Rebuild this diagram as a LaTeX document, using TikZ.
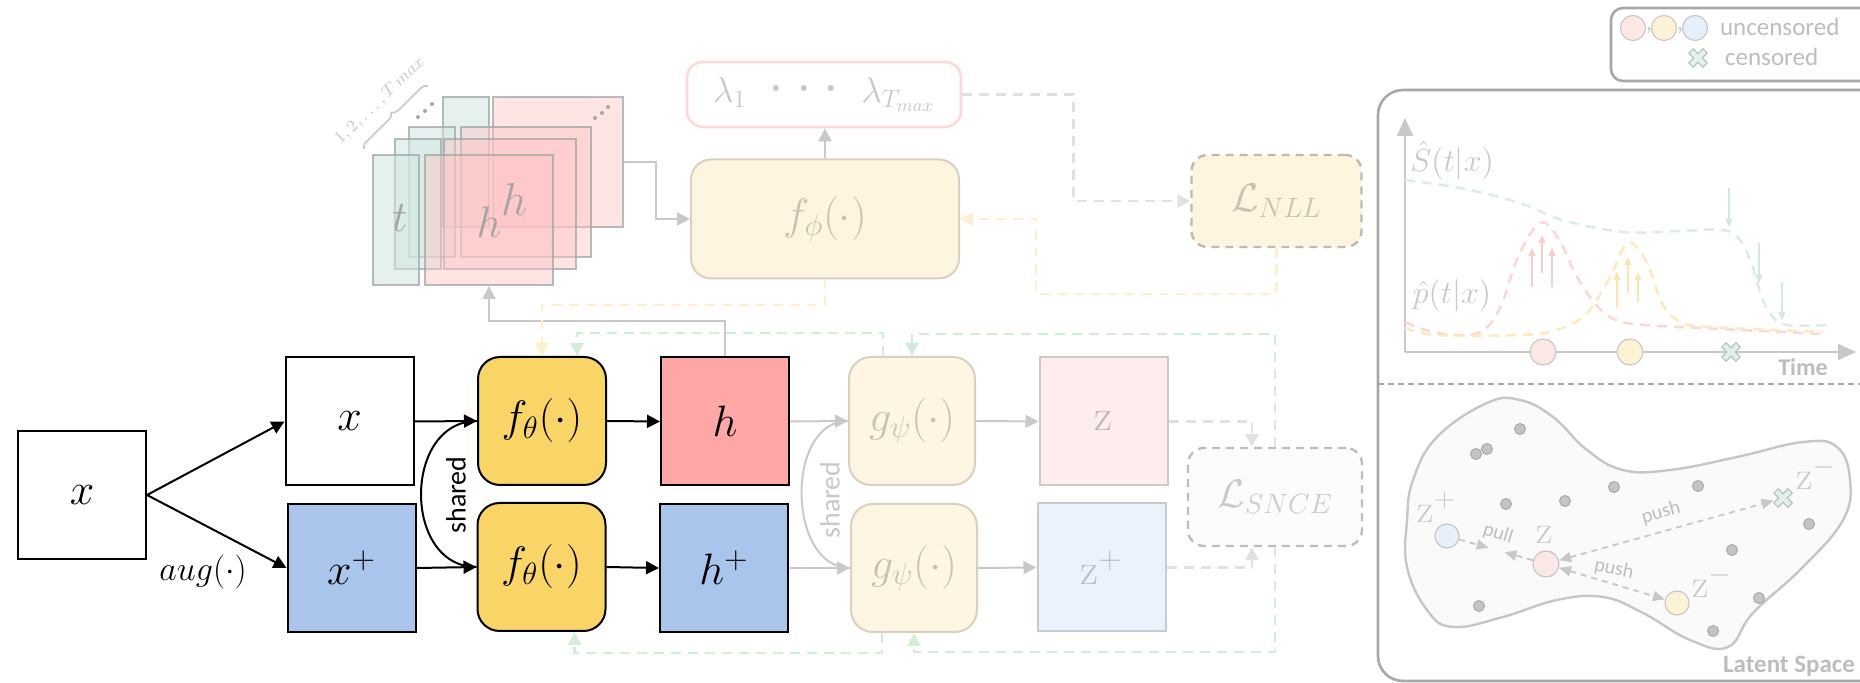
\RequirePackage{fix-cm}
\documentclass[tikz,border=0pt]{standalone}
\usepackage{fontspec}
\newfontfamily\calib{Carlito}
\usetikzlibrary{arrows.meta,calc,decorations.pathreplacing}

\newcommand{\fsz}[1]{\fontsize{#1}{#1}\selectfont}

% main pipeline
\definecolor{cGold}{HTML}{F9D466}
\definecolor{cRed}{HTML}{FFA6A6}
\definecolor{cBlue}{HTML}{A9C5EB}
% faded parts
\definecolor{cGrayLn}{HTML}{C9C9C9}
\definecolor{cGFill}{HTML}{FEF6E2}
\definecolor{cGDraw}{HTML}{D8D0C0}
\definecolor{cGText}{HTML}{C9C1B1}
\definecolor{cZFill}{HTML}{FDEDED}
\definecolor{cZDraw}{HTML}{CFC8C8}
\definecolor{cZText}{HTML}{BFB7B7}
\definecolor{cZpFill}{HTML}{EBF2FB}
\definecolor{cZpDraw}{HTML}{C6CBD2}
\definecolor{cZpText}{HTML}{BCBDC6}
\definecolor{cSnFill}{HTML}{FBFDFB}
\definecolor{cLossDraw}{HTML}{BDBDBD}
\definecolor{cSnText}{HTML}{C8CCC8}
\definecolor{cNlFill}{HTML}{FEF5E0}
\definecolor{cNlDraw}{HTML}{BFBAB0}
\definecolor{cLamDraw}{HTML}{FCDADA}
\definecolor{cGreen}{HTML}{D3EDD8}
\definecolor{cYellow}{HTML}{FDEFCF}
\definecolor{cLDash}{HTML}{E1E1E1}
% hidden-state tiles
\definecolor{cTeal}{HTML}{D2E6E2}
\definecolor{cPink}{HTML}{FFC4C4}
\definecolor{cTileDraw}{HTML}{9FA6A5}
\definecolor{cTileText}{HTML}{A5A5A5}
% right panel
\definecolor{cPanel}{HTML}{A8A8A8}
\definecolor{cAxis}{HTML}{C8C8C8}
\definecolor{cPanelText}{HTML}{BDBDBD}
\definecolor{cSCurve}{HTML}{DCEDE9}
\definecolor{cPCurve}{HTML}{FBD8D8}
\definecolor{cYCurve}{HTML}{FDEAC0}
\definecolor{cSArrow}{HTML}{D3E8E3}
\definecolor{cPArrow}{HTML}{F8CDCD}
\definecolor{cYArrow}{HTML}{FCE5B0}
\definecolor{cDotFill}{HTML}{C4C4C4}
\definecolor{cDotDraw}{HTML}{A9A9A9}
\definecolor{cBlob}{HTML}{FAFAFA}
\definecolor{cBlobDraw}{HTML}{C6C6C6}
\definecolor{cXFill}{HTML}{E4F0ED}
\definecolor{cXDraw}{HTML}{B4C6C1}
\definecolor{cLegPink}{HTML}{FDE8E8}
\definecolor{cLegYel}{HTML}{FEF2D6}
\definecolor{cLegBlue}{HTML}{E7EFFA}

\begin{document}
\begin{tikzpicture}[x=0.5pt,y=-0.5pt,
  sq/.style={draw=black, line width=1pt, inner sep=0pt, minimum width=64pt,
    minimum height=64pt, font=\fsz{22}},
  fnbox/.style={sq, rounded corners=11pt, fill=cGold},
  gbox/.style={draw=cGDraw, fill=cGFill, line width=1pt, rounded corners=11pt,
    inner sep=0pt, minimum width=63pt, minimum height=64pt, text=cGText, font=\fsz{22}},
  zbox/.style={line width=1pt, inner sep=0pt, minimum width=64pt,
    minimum height=64pt, font=\fsz{22}},
  lossbox/.style={dashed, dash pattern=on 4pt off 3pt, line width=1.2pt,
    rounded corners=8pt, inner sep=0pt, font=\fsz{20}},
  tealtile/.style={draw=cTileDraw, fill=cTeal, fill opacity=0.55, draw opacity=0.75,
    line width=1pt, inner sep=0pt, minimum width=23pt, minimum height=65pt},
  pinktile/.style={draw=cTileDraw, fill=cPink, fill opacity=0.45, draw opacity=0.75,
    line width=1pt, inner sep=0pt, minimum width=64pt, minimum height=65pt},
  blk/.style={draw=black, line width=1pt, -{Triangle[length=6.5pt,width=6.5pt]}},
  gry/.style={draw=cGrayLn, line width=1pt, -{Triangle[length=6.5pt,width=6.5pt]}},
  grn/.style={draw=cGreen, line width=1.4pt, dash pattern=on 5pt off 3.5pt,
    -{Triangle[length=6.5pt,width=6.5pt]}},
  ylw/.style={draw=cYellow, line width=1.4pt, dash pattern=on 5pt off 3.5pt,
    -{Triangle[length=6.5pt,width=6.5pt]}},
  lgd/.style={draw=cLDash, line width=1.4pt, dash pattern=on 5pt off 3.5pt,
    -{Triangle[length=6.5pt,width=6.5pt]}},
  panel/.style={draw=cPanel, line width=1.3pt},
  curve/.style={line width=1.3pt, dash pattern=on 5pt off 3.5pt},
  tinyarr/.style={line width=0.6pt, -{Triangle[length=4pt,width=3.5pt]}},
  dot/.style={circle, draw=cDotDraw, fill=cDotFill, line width=0.5pt,
    inner sep=0pt, minimum width=5.5pt, minimum height=5.5pt},
  lat/.style={circle, draw=cAxis, line width=0.6pt, inner sep=0pt, minimum size=12pt},
  pp/.style={draw=cAxis, line width=0.9pt, dash pattern=on 3pt off 2.5pt},
  ppt/.style={text=cPanelText, font=\calib\fsz{10}},
  zl/.style={text=cAxis, font=\fsz{20}},
  xmark/.pic={\draw[draw=cXDraw, fill=cXFill, line width=0.6pt, rotate=45]
    (-3,-10) -- (3,-10) -- (3,-3) -- (10,-3) -- (10,3) -- (3,3) -- (3,10)
    -- (-3,10) -- (-3,3) -- (-10,3) -- (-10,-3) -- (-3,-3) -- cycle;}
]
\useasboundingbox (0,0) rectangle (1860,683);
\clip (0,0) rectangle (1860,683);

% ---------- hidden states over time ----------
\node[pinktile, minimum width=65pt] (P4) at (558,162.5) {};
\node[tealtile] (T4) at (466,162) {};
\node[pinktile, minimum width=65pt] (P3) at (526,192) {};
\node[tealtile] (T3) at (432,192) {};
\node[pinktile, minimum width=66pt] (P2) at (510,204) {};
\node[tealtile] (T2) at (418,204) {};
\node[pinktile] (P1) at (489,220) {};
\node[tealtile] (T1) at (396,220) {};
\node[text=cTileText, font=\fsz{22}] (tlab) at (400,218) {$t$};
\node[text=cTileText, font=\fsz{22}] (hlabA) at (489,222) {$h$};
\node[text=cTileText, font=\fsz{23}] (hlabB) at (514,200) {$h$};
\foreach \px/\py in {418/117, 425/111, 432/104, 595/118, 602/113, 608/107}
  \fill[cTileText] (\px,\py) circle[radius=1pt];
\draw[cAxis, line width=0.8pt, decorate, decoration={brace, amplitude=3.5pt}]
  (364,149) -- (428,86);
\node[text=cAxis, rotate=44, font=\fsz{8.5}] (tmaxlab) at (380,101) {$1,2,\ldots,T\,max$};

% ---------- survival head ----------
\node[draw=cGDraw, fill=cNlFill, line width=1pt, rounded corners=10pt, inner sep=0pt,
  minimum width=134pt, minimum height=59.5pt, text=cGText, font=\fsz{22}]
  (fphi) at (825,219) {$f_\phi(\cdot)$};
\node[draw=cLamDraw, fill=white, line width=1.3pt, rounded corners=8pt, inner sep=0pt,
  minimum width=137pt, minimum height=32.5pt, text=cAxis, font=\fsz{18}]
  (lam) at (824,94.5) {$\lambda_1$\hspace{11pt}{\fsz{28}$\cdot$}\hspace{6pt}{\fsz{28}$\cdot$}\hspace{6pt}{\fsz{28}$\cdot$}\hspace{11pt}$\lambda_{T_{max}}$};
\node[lossbox, draw=cNlDraw, fill=cNlFill, minimum width=85pt, minimum height=46pt,
  text=cGText] (Lnll) at (1276.5,201) {$\mathcal{L}_{NLL}$};

% ---------- contrastive pipeline ----------
\node[sq] (xin) at (82,495) {$x$};
\node[sq] (xa) at (349.5,421.5) {$x$};
\node[sq, fill=cBlue] (xp) at (351.5,568) {$x^+$};
\node[fnbox] (ft) at (542,421) {$f_\theta(\cdot)$};
\node[fnbox] (fb) at (541.5,567) {$f_\theta(\cdot)$};
\node[sq, fill=cRed] (h) at (725,421.5) {$h$};
\node[sq, fill=cBlue] (hp) at (724,568) {$h^+$};
\node[gbox] (gt) at (912,421) {$g_\psi(\cdot)$};
\node[gbox] (gb) at (914,568) {$g_\psi(\cdot)$};
\node[zbox, draw=cZDraw, fill=cZFill, text=cZText] (z) at (1103.5,421.5) {$\mathrm{z}$};
\node[zbox, draw=cZpDraw, fill=cZpFill, text=cZpText] (zp) at (1101.5,567.5) {$\mathrm{z}^+$};
\node[lossbox, draw=cLossDraw, fill=cSnFill, minimum width=87pt, minimum height=49pt,
  text=cSnText] (Lsnce) at (1275,497) {$\mathcal{L}_{SNCE}$};

\node[font=\fsz{17}] (aug) at (203,572) {$aug(\cdot)$};
\node[rotate=90, font=\calib\fsz{14}] (sharedA) at (456,495) {shared};
\node[rotate=90, text=cAxis, font=\calib\fsz{14}] (sharedB) at (830,500) {shared};

% forward connectors
\draw[blk] (xin.east) -- (xa.west);
\draw[blk] (xin.east) -- (xp.west);
\draw[blk] (xa.east) -- (ft.west);
\draw[blk] (xp.east) -- (fb.west);
\draw[blk] (ft.east) -- (h.west);
\draw[blk] (fb.east) -- (hp.west);
\draw[line width=1pt] (ft.west) to[out=180, in=180, looseness=1.3] (fb.west);
\draw[gry] (h.east) -- (gt.west);
\draw[gry] (hp.east) -- (gb.west);
\draw[draw=cGrayLn, line width=1pt] (gt.west) to[out=180, in=180, looseness=1.1] (gb.west);
\draw[gry] (gt.east) -- (z.west);
\draw[gry] (gb.east) -- (zp.west);
\draw[lgd] (z.east) -| ($(Lsnce.north)+(-23,0)$);
\draw[lgd] (zp.east) -| ($(Lsnce.south)+(-23,0)$);
\draw[gry] (h.north) |- ($(P1.south)+(0,35)$) -- (P1.south);
\draw[gry] (P4.east) -| ($(fphi.west)+(-34,0)$) -- (fphi.west);
\draw[gry] (fphi.north) -- (fphi.north |- lam.south);
\draw[lgd] (lam.east) -| ($(Lnll.west)+(-117,0)$) -- (Lnll.west);

% gradient paths
\coordinate (gtop) at (0,334);
\coordinate (gbot) at (0,652);
\draw[grn] (Lsnce.north) |- (gt.north |- gtop) -- (gt.north);
\draw[grn] ($(gt.north)+(-29,0)$) |- ($(ft.north)+(35,-23)$) -- ($(ft.north)+(35,0)$);
\draw[grn] (Lsnce.south) |- (gb.south |- gbot) -- (gb.south);
\draw[grn] ($(gb.south)+(-32,0)$) |- ($(fb.south)+(33,21)$) -- ($(fb.south)+(33,0)$);
\draw[ylw] (Lnll.south) |- ($(fphi.east)+(76,75)$) |- (fphi.east);
\draw[ylw] (fphi.south) |- ($(ft.north)+(0,-51)$) -- (ft.north);

% ---------- right panel ----------
\draw[panel, rounded corners=6pt] (1611,8) rectangle (1930,81);
\draw[panel, rounded corners=12.5pt] (1378,90) rectangle (1930,681);
\draw[draw=cPanel, line width=1.1pt, dash pattern=on 3pt off 2pt] (1378,384) -- (1860,384);

% legend
\node[lat, fill=cLegPink, minimum width=12.5pt, minimum height=11pt] (legP) at (1633,28) {};
\node[lat, fill=cLegYel, minimum width=12.5pt, minimum height=11pt] (legY) at (1664,28) {};
\node[lat, fill=cLegBlue, minimum width=12.5pt, minimum height=11pt] (legB) at (1695,28) {};
\node[text=cAxis, font=\calib\fsz{13}] (c1) at (1649,31) {,};
\node[text=cAxis, font=\calib\fsz{13}] (c2) at (1680,31) {,};
\node[anchor=west, text=cPanelText, font=\calib\fsz{12.5}] (unc) at (1713,27) {uncensored};
\pic at (1698,58) {xmark};
\node[anchor=west, text=cPanelText, font=\calib\fsz{12.5}] (cen) at (1718,57) {censored};

% survival plot
\coordinate (org) at (1405,352);
\draw[draw=cAxis, line width=1pt, -{Triangle[length=9pt,width=8pt]}] (org) -- (1405,118);
\draw[draw=cAxis, line width=1pt, -{Triangle[length=9pt,width=8pt]}] (org) -- (1856,352);
\node[text=cAxis, font=\fsz{16}] (Slab) at (1452,160) {$\hat{S}(t|x)$};
\node[text=cAxis, font=\fsz{16}] (plab) at (1452,296) {$\hat{p}(t|x)$};
\node[text=cPanelText, font=\calib\bfseries\fsz{12}] (time) at (1803,367) {Time};

\draw[curve, cPCurve] plot[smooth, tension=0.6] coordinates {(1405,322) (1437,333)
  (1478,333) (1500,308) (1518,257) (1540,223) (1558,238) (1577,277) (1597,306)
  (1616,320) (1645,325) (1720,329) (1823,334)};
\draw[curve, cYCurve] plot[smooth, tension=0.6] coordinates {(1405,328) (1437,335)
  (1520,335) (1557,330) (1587,313) (1610,277) (1628,243) (1647,263) (1663,305)
  (1683,323) (1712,327) (1823,332)};
\draw[curve, cSCurve] plot[smooth, tension=0.6] coordinates {(1405,180) (1460,188)
  (1520,203) (1562,220) (1623,232) (1680,231) (1723,230) (1740,240) (1752,265)
  (1762,298) (1773,317) (1787,325) (1830,325)};
\foreach \ax/\ay/\by in {1532/287/248, 1542/273/235, 1552/287/248}
  \draw[tinyarr, cPArrow] (\ax,\ay) -- (\ax,\by);
\foreach \ax/\ay/\by in {1617/308/272, 1628/293/257, 1638/302/272}
  \draw[tinyarr, cYArrow] (\ax,\ay) -- (\ax,\by);
\foreach \ax/\ay/\by in {1729/188/227, 1759/243/283, 1782/282/320}
  \draw[tinyarr, cSArrow] (\ax,\ay) -- (\ax,\by);
\node[lat, fill=cLegPink, minimum width=13pt, minimum height=11.5pt] (evP) at (1543,352) {};
\node[lat, fill=cLegYel, minimum width=13pt, minimum height=11.5pt] (evY) at (1630,352) {};
\pic at (1731,352) {xmark};

% latent space
\draw[draw=cBlobDraw, fill=cBlob, line width=1.2pt] plot[smooth cycle, tension=0.7]
  coordinates {(1413,480) (1437,437) (1487,403) (1520,400) (1553,417) (1587,450)
  (1623,470) (1670,470) (1737,457) (1803,442) (1837,447) (1850,480) (1843,520)
  (1803,567) (1753,613) (1728,647) (1690,640) (1643,613) (1603,597) (1557,600)
  (1503,617) (1453,627) (1427,610) (1407,567) (1407,520)};
\foreach \dx/\dy [count=\k] in {1520/429, 1476/454, 1487/449, 1506/504, 1565/501,
  1614/487, 1698/486, 1809/524, 1732/550, 1759/598, 1713/631, 1479/606}
  \node[dot] (d\k) at (\dx,\dy) {};
\node[lat, fill=cLegBlue] (zpl) at (1447,536) {};
\node[lat, fill=cLegPink, minimum width=13pt, minimum height=11pt] (zc) at (1546,564) {};
\node[lat, fill=cLegYel] (zm) at (1677,603) {};
\node[minimum size=9pt, inner sep=0pt] (zx) at (1783,498) {};
\pic at (1783,498) {xmark};
\node[zl] (zplab) at (1437,507) {$\mathrm{z}^+$};
\node[zl] (zclab) at (1545,535) {$\mathrm{z}$};
\node[zl] (zmlab) at (1712,582) {$\mathrm{z}^-$};
\node[zl] (zxlab) at (1816,474) {$\mathrm{z}^-$};
\draw[pp, -{Triangle[length=6pt,width=5pt]}] (zpl) -- ($(zpl)!0.42!(zc)$);
\draw[pp, -{Triangle[length=6pt,width=5pt]}] (zc) -- ($(zc)!0.42!(zpl)$);
\draw[pp, {Triangle[length=6pt,width=5pt]}-{Triangle[length=6pt,width=5pt]}] (zc) -- (zx);
\draw[pp, {Triangle[length=6pt,width=5pt]}-{Triangle[length=6pt,width=5pt]}] (zc) -- (zm);
\node[ppt, rotate=-17] (pull) at (1498,534) {pull};
\node[ppt, rotate=16] (push1) at (1661,513) {push};
\node[ppt, rotate=-12] (push2) at (1614,569) {push};
\node[text=cPanelText, font=\calib\bfseries\fsz{12.5}] (latent) at (1789,666) {Latent Space};
\end{tikzpicture}
\end{document}
